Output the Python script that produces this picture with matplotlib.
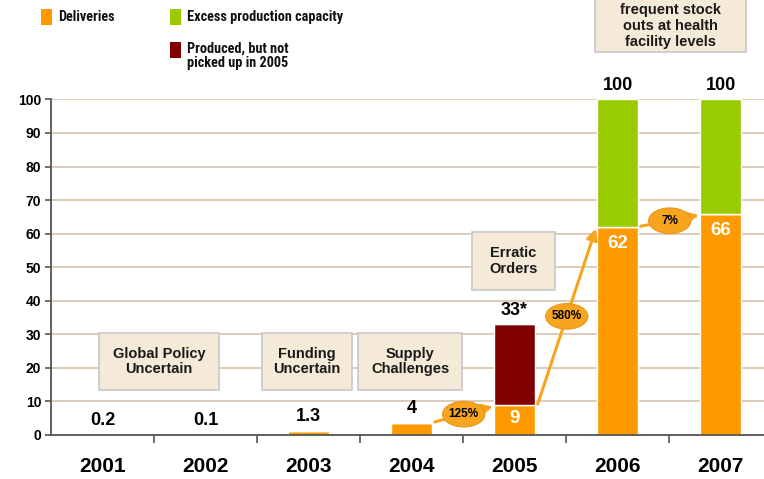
import numpy as np
import matplotlib
matplotlib.use('Agg')
import matplotlib.pyplot as plt
import matplotlib.patches as patches

years = ['2001', '2002', '2003', '2004', '2005', '2006', '2007']
deliveries = [0.2, 0.1, 1.3, 3.7, 9, 62, 66]
not_picked_up = [0, 0, 0, 0, 24, 0, 0]
excess_capacity = [0, 0, 0, 0, 0, 38, 34]
total_labels = ['0.2', '0.1', '1.3', '4', '33*', '100', '100']
inner_labels = ['', '', '', '', '9', '62', '66']
growth_labels = ['125%', '580%', '7%']
growth_pairs = [(3, 4), (4, 5), (5, 6)]

c_orange = '#ff9900'
c_green = '#99cc00'
c_red = '#800000'
c_arrow = '#f7a51e'
c_box = '#f5ead8'
c_box_edge = '#c8c8c8'
c_grid = '#d8c2ae'
c_axis = '#555555'

plt.rcParams['font.family'] = ['Liberation Sans', 'DejaVu Sans']
plt.rcParams['font.weight'] = 'bold'

fig = plt.figure(figsize=(7.64, 4.79), dpi=100)
ax = fig.add_axes([51 / 764, 44 / 479, 721 / 764, 335.6 / 479])
ax.set_xlim(-0.5, 6.5)
ax.set_ylim(0, 100)

x = np.arange(len(years))
w = 0.39
d = np.array(deliveries, dtype=float)
n = np.array(not_picked_up, dtype=float)
e = np.array(excess_capacity, dtype=float)

ax.bar(x, d, w, color=c_orange, edgecolor='white', linewidth=1, zorder=3)
ax.bar(x, n, w, bottom=d, color=c_red, edgecolor='white', linewidth=1, zorder=3)
ax.bar(x, e, w, bottom=d + n, color=c_green, edgecolor='white', linewidth=1, zorder=3)

# grid + axes
ax.set_yticks(np.arange(0, 101, 10))
ax.yaxis.grid(True, color=c_grid, lw=1.2, zorder=0)
ax.set_axisbelow(True)
for s in ['top', 'right']:
    ax.spines[s].set_visible(False)
for s in ['left', 'bottom']:
    ax.spines[s].set_color(c_axis)
    ax.spines[s].set_linewidth(1.3)
    ax.spines[s].set_zorder(4)
ax.tick_params(axis='y', length=4, color=c_axis, width=1.2, labelsize=10, pad=3)
ax.set_xticks(x)
ax.set_xticklabels(years, fontsize=15, fontweight='bold')
ax.tick_params(axis='x', length=0, pad=16)
ax.set_xticks(np.arange(0.5, 6, 1), minor=True)
ax.tick_params(axis='x', which='minor', length=6, color=c_axis, width=1.2)

# value labels
tops = d + n + e
for i, lab in enumerate(total_labels):
    ax.text(x[i], tops[i] + 4.2, lab, ha='center', va='center', fontsize=13,
            fontweight='bold', color='black', clip_on=False, zorder=5)
for i, lab in enumerate(inner_labels):
    if lab:
        yy = d[i] / 2 + 0.5 if d[i] < 20 else d[i] - 5
        ax.text(x[i], yy, lab, ha='center', va='center', fontsize=13.5,
                fontweight='bold', color='white', zorder=5)

# growth arrows with ellipse labels
for (i, j), lab in zip(growth_pairs, growth_labels):
    x0, y0 = x[i] + w / 2 + 0.03, d[i] + 0.2
    x1, y1 = x[j] - w / 2 - 0.015, d[j] - 0.5
    ax.annotate('', xy=(x1, y1), xytext=(x0, y0),
                arrowprops=dict(arrowstyle='-|>', color=c_arrow, lw=2.2,
                                mutation_scale=16, shrinkA=0, shrinkB=0),
                zorder=6)
    cx, cy = (x0 + x1) / 2, (y0 + y1) / 2
    ax.add_patch(patches.Ellipse((cx, cy), 0.41, 7.6, facecolor=c_arrow,
                                 edgecolor='#e8961a', lw=0.8, zorder=7))
    ax.text(cx, cy, lab, ha='center', va='center', fontsize=8.5,
            fontweight='bold', color='black', zorder=8)

# comment boxes
boxes = [
    ((-0.034, 13.4), 1.165, 17.0, 'Global Policy\nUncertain'),
    ((1.549, 13.4), 0.873, 17.0, 'Funding\nUncertain'),
    ((2.481, 13.4), 1.009, 17.0, 'Supply\nChallenges'),
    ((3.587, 43.2), 0.806, 17.3, 'Erratic\nOrders'),
]
for (bx, by), bw, bh, txt in boxes:
    ax.add_patch(patches.Rectangle((bx, by), bw, bh, facecolor=c_box,
                                   edgecolor=c_box_edge, lw=1.2, zorder=2,
                                   clip_on=False))
    ax.text(bx + bw / 2, by + bh / 2, txt, ha='center', va='center',
            fontsize=10.5, fontweight='bold', color='#1a1a1a',
            linespacing=1.15, zorder=2.5)

# overlay in pixel coordinates for the legend and the top box
ov = fig.add_axes([0, 0, 1, 1])
ov.set_xlim(0, 764)
ov.set_ylim(479, 0)
ov.axis('off')

ov.add_patch(patches.Rectangle((595, -10), 151, 62, facecolor=c_box,
                               edgecolor=c_box_edge, lw=1.2))
ov.text(670.5, 26, 'frequent stock\nouts at health\nfacility levels', ha='center',
        va='center', fontsize=10.5, fontweight='bold', color='#1a1a1a',
        linespacing=1.15)

legend_items = [
    ((41, 8.5), c_orange, 'Deliveries', (58, 16.5)),
    ((170, 8.5), c_green, 'Excess production capacity', (187, 16.5)),
    ((170, 42), c_red, 'Produced, but not\npicked up in 2005', (187, 55.5)),
]
for (lx, ly), col, txt, (tx, ty) in legend_items:
    ov.add_patch(patches.Rectangle((lx, ly), 11, 16, facecolor=col, edgecolor='none'))
    ov.text(tx, ty, txt, ha='left', va='center', fontsize=10.3, fontweight='bold',
            family=['Roboto Condensed', 'Liberation Sans'], color='#111111',
            linespacing=1.05)

fig.savefig('out.png', dpi=100)
